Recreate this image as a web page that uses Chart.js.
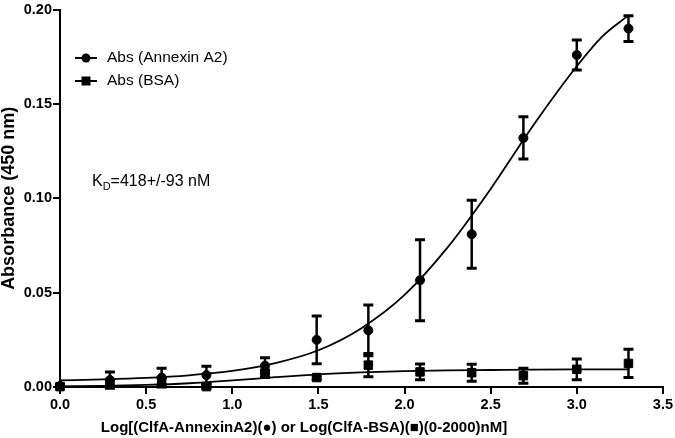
<!DOCTYPE html>
<html>
<head>
<meta charset="utf-8">
<script src="https://cdn.jsdelivr.net/npm/chart.js@4.4.0/dist/chart.umd.min.js"></script>
<style>
  html, body { margin: 0; padding: 0; background: #fff; }
</style>
</head>
<body>
<canvas id="grafico" width="675" height="438"></canvas>
<script>
/* Dados: log da concentração (nM) e absorbância média +/- erro */
const logConc = [0, 0.29, 0.59, 0.85, 1.19, 1.49, 1.79, 2.09, 2.39, 2.69, 3.0, 3.3];
const absAnnexina = [0.0005, 0.0037, 0.005, 0.0063, 0.0113, 0.025, 0.030, 0.0566, 0.081, 0.132, 0.176, 0.190];
const erroAnnexina = [0.001, 0.0043, 0.005, 0.0047, 0.0042, 0.0127, 0.0135, 0.0215, 0.018, 0.0112, 0.008, 0.0068];
const absBsa = [0.0002, 0.002, 0.003, 0.0002, 0.007, 0.005, 0.0116, 0.008, 0.0076, 0.006, 0.0094, 0.0125];
const erroBsa = [0.0005, 0.002, 0.002, 0.001, 0.002, 0.001, 0.0062, 0.0042, 0.0045, 0.004, 0.0055, 0.0075];

/* Curvas de ajuste, lidas ponto a ponto */
const curvaX = [0, 0.25, 0.5, 0.75, 1.0, 1.25, 1.5, 1.75, 2.0, 2.25, 2.5, 2.75, 3.0, 3.15, 3.3];
const curvaAnnexina = [0.0035, 0.004, 0.0048, 0.0062, 0.0085, 0.0127, 0.0195, 0.0312, 0.0488, 0.074, 0.105, 0.139, 0.170, 0.186, 0.197];
const curvaBsa = [0.0003, 0.0006, 0.0011, 0.002, 0.0035, 0.0052, 0.0067, 0.0077, 0.0084, 0.0088, 0.009, 0.0092, 0.0093, 0.0093, 0.0093];

const ticksX = [0, 0.5, 1.0, 1.5, 2.0, 2.5, 3.0, 3.5];
const ticksY = [0, 0.05, 0.10, 0.15, 0.20];

const legendas = ['Abs (Annexin A2)', 'Abs (BSA)'];
const textoKd = ['K', 'D', '=418+/-93 nM'];
const tituloX = 'Log[(ClfA-AnnexinA2)(\u25CF) or Log(ClfA-BSA)(\u25A0)(0-2000)nM]';

const fonte = "'Liberation Sans', Arial, sans-serif";

function pares(xs, ys) {
    return xs.map((x, i) => ({ x: x, y: ys[i] }));
}

/* Plugin para desenhar as barras de erro */
const pluginBarrasErro = {
    id: 'barrasErro',
    afterDatasetsDraw(chart) {
        const ctx = chart.ctx;
        const sx = chart.scales.x;
        const sy = chart.scales.y;
        chart.data.datasets.forEach(ds => {
            if (!ds.erros) return;
            ctx.save();
            ctx.strokeStyle = '#000';
            ds.data.forEach((p, i) => {
                const e = ds.erros[i];
                const px = sx.getPixelForValue(p.x);
                const yTop = sy.getPixelForValue(p.y + e);
                const yBot = sy.getPixelForValue(p.y - e);
                ctx.lineWidth = 2.5;
                ctx.beginPath();
                ctx.moveTo(px, yTop);
                ctx.lineTo(px, yBot);
                ctx.stroke();
                ctx.lineWidth = 3;
                ctx.beginPath();
                ctx.moveTo(px - 5, yTop);
                ctx.lineTo(px + 5, yTop);
                ctx.moveTo(px - 5, yBot);
                ctx.lineTo(px + 5, yBot);
                ctx.stroke();
            });
            ctx.restore();
        });
    }
};

/* Plugin para a legenda dentro da área do gráfico, o texto do KD e o título do eixo X */
const pluginLegenda = {
    id: 'legendaInterna',
    afterDraw(chart) {
        const ctx = chart.ctx;
        ctx.save();
        ctx.fillStyle = '#000';
        ctx.strokeStyle = '#000';
        ctx.font = '15.5px ' + fonte;
        ctx.textBaseline = 'middle';
        const linhas = [58, 81];
        legendas.forEach((txt, i) => {
            const y = linhas[i];
            ctx.lineWidth = 2;
            ctx.beginPath();
            ctx.moveTo(75, y);
            ctx.lineTo(97, y);
            ctx.stroke();
            ctx.beginPath();
            if (i === 0) {
                ctx.arc(86, y, 4.5, 0, Math.PI * 2);
            } else {
                ctx.rect(81.5, y - 4.5, 9, 9);
            }
            ctx.fill();
            ctx.fillText(txt, 107, y);
        });

        /* K com subscrito D */
        ctx.font = '16px ' + fonte;
        let x = 92;
        ctx.fillText(textoKd[0], x, 182);
        x += ctx.measureText(textoKd[0]).width;
        ctx.font = '11px ' + fonte;
        ctx.fillText(textoKd[1], x, 187);
        x += ctx.measureText(textoKd[1]).width;
        ctx.font = '16px ' + fonte;
        ctx.fillText(textoKd[2], x, 182);

        /* Título do eixo X (deslocado para a esquerda como no original) */
        ctx.font = 'bold 15px ' + fonte;
        ctx.textAlign = 'center';
        ctx.fillText(tituloX, 304, 428);
        ctx.restore();
    }
};

const eixoComum = {
    grid: { display: true, drawOnChartArea: false, drawTicks: true, tickLength: 7, color: '#000', lineWidth: 2 },
    border: { display: true, color: '#000', width: 2 }
};

const ctx = document.getElementById('grafico');
const myChart = new Chart(ctx, {
    type: 'scatter',
    data: {
        datasets: [
            {
                type: 'line',
                data: pares(curvaX, curvaAnnexina),
                borderColor: '#000',
                borderWidth: 1.8,
                pointRadius: 0,
                cubicInterpolationMode: 'monotone',
                fill: false
            },
            {
                type: 'line',
                data: pares(curvaX, curvaBsa),
                borderColor: '#000',
                borderWidth: 1.8,
                pointRadius: 0,
                cubicInterpolationMode: 'monotone',
                fill: false
            },
            {
                label: legendas[0],
                data: pares(logConc, absAnnexina),
                erros: erroAnnexina,
                pointStyle: 'circle',
                pointRadius: 4.5,
                backgroundColor: '#000',
                borderColor: '#000',
                clip: false
            },
            {
                label: legendas[1],
                data: pares(logConc, absBsa),
                erros: erroBsa,
                pointStyle: 'rect',
                pointRadius: 6,
                backgroundColor: '#000',
                borderColor: '#000',
                clip: false
            }
        ]
    },
    options: {
        responsive: false,
        animation: false,
        events: [],
        layout: { padding: { top: 8, right: 11, left: 0, bottom: 0 } },
        plugins: {
            legend: { display: false },
            tooltip: { enabled: false }
        },
        scales: {
            x: {
                ...eixoComum,
                type: 'linear',
                min: 0,
                max: 3.5,
                afterBuildTicks: s => { s.ticks = ticksX.map(v => ({ value: v })); },
                afterFit: s => { s.height = 51; },
                ticks: {
                    color: '#000',
                    padding: 2,
                    font: { family: fonte, size: 14.5, weight: 'bold' },
                    callback: v => v.toFixed(1)
                },
                title: { display: false }
            },
            y: {
                ...eixoComum,
                type: 'linear',
                min: 0,
                max: 0.2,
                afterBuildTicks: s => { s.ticks = ticksY.map(v => ({ value: v })); },
                afterFit: s => { s.width = 60; },
                ticks: {
                    color: '#000',
                    padding: 1,
                    font: { family: fonte, size: 14.5, weight: 'bold' },
                    callback: v => v.toFixed(2)
                },
                title: {
                    display: true,
                    text: 'Absorbance (450 nm)',
                    color: '#000',
                    padding: 0,
                    font: { family: fonte, size: 18, weight: 'bold', lineHeight: 1.0 }
                }
            }
        }
    },
    plugins: [pluginBarrasErro, pluginLegenda]
});
</script>
</body>
</html>
